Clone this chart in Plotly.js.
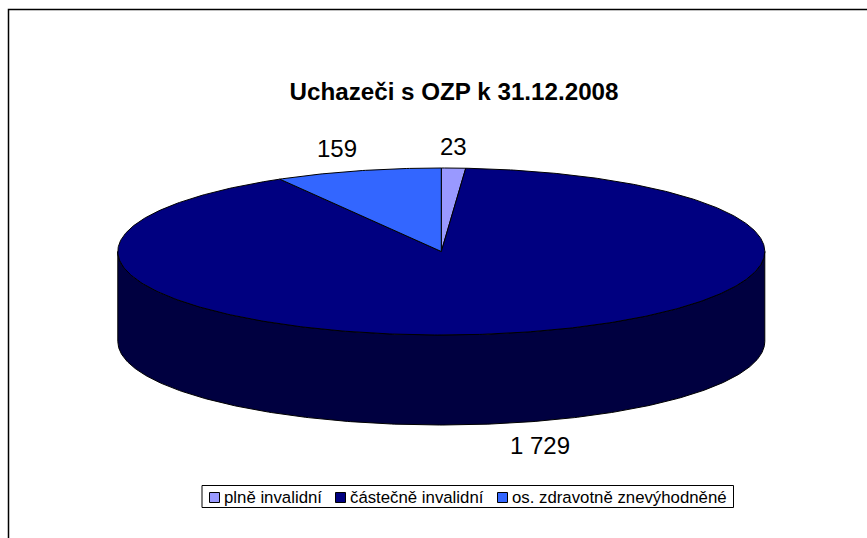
<!DOCTYPE html>
<html><head><meta charset="utf-8">
<script src="https://cdn.plot.ly/plotly-3.0.1.min.js"></script>
<style>html,body{margin:0;padding:0;background:#fff;overflow:hidden}</style>
</head><body><div id="chart" style="width:867px;height:538px"></div>
<script>
const chartTitle = "Uchazeči s OZP k 31.12.2008";
const categories = ["plně invalidní", "částečně invalidní", "os. zdravotně znevýhodněné"];
const values = [23, 1729, 159];
const valueLabels = ["23", "1 729", "159"];
const topColors = ["#9999FF", "#000080", "#3366FF"];
const sideColors = ["#4C4C80", "#000040", "#1A3380"];

const W = 867, H = 538, CX = 441.3, CY = 251.5, RX = 323.5, RY = 83.5, DEPTH = 90;
const xPaper = p => p / W, yPaper = p => 1 - p / H;
const total = values.reduce((a, b) => a + b, 0);
const FONT = "Liberation Sans, Arial, sans-serif";

function arc(a0, a1, drop) {
  const xs = [], ys = [], n = Math.max(2, Math.ceil((a1 - a0) / 0.01));
  for (let i = 0; i <= n; i++) {
    const a = a0 + (a1 - a0) * i / n;
    xs.push(Math.sin(a)); ys.push(Math.cos(a) - drop);
  }
  return [xs, ys];
}
const depth = DEPTH / RY;
const traces = [];
let cum = 0;
const slices = values.map((v, i) => {
  const a0 = cum / total * 2 * Math.PI; cum += v;
  return {i, a0, a1: cum / total * 2 * Math.PI};
});
// front wall (angles pi/2 .. 3pi/2 face the viewer)
slices.forEach(s => {
  const a0 = Math.max(s.a0, Math.PI / 2), a1 = Math.min(s.a1, 3 * Math.PI / 2);
  if (a1 <= a0) return;
  const [tx, ty] = arc(a0, a1, 0), [bx, by] = arc(a0, a1, depth);
  traces.push({type: "scatter", mode: "lines", x: tx.concat(bx.reverse(), [tx[0]]), y: ty.concat(by.reverse(), [ty[0]]),
    fill: "toself", fillcolor: sideColors[s.i], line: {color: "#000", width: 1}, hoverinfo: "skip", showlegend: false});
});
// top face
slices.forEach(s => {
  const [ax, ay] = arc(s.a0, s.a1, 0);
  traces.push({type: "scatter", mode: "lines", name: categories[s.i],
    x: [0].concat(ax, [0]), y: [0].concat(ay, [0]),
    fill: "toself", fillcolor: topColors[s.i], line: {color: "#000", width: 1}, hoverinfo: "name", showlegend: false});
});

const shapes = [
  {type: "path", xref: "paper", yref: "paper",
   path: `M${xPaper(8.5)},${yPaper(560)} L${xPaper(8.5)},${yPaper(9.5)} L${xPaper(900)},${yPaper(9.5)}`,
   line: {color: "#000", width: 1.5}},
  {type: "rect", xref: "paper", yref: "paper", x0: xPaper(202), x1: xPaper(733.5), y0: yPaper(485.5), y1: yPaper(507.5),
   line: {color: "#000", width: 1}, fillcolor: "#fff"}
];
const swatchX = [209.5, 335.5, 497.5], legendTextX = [224, 350, 511.5];
categories.forEach((c, i) => shapes.push({type: "rect", xref: "paper", yref: "paper",
  x0: xPaper(swatchX[i]), x1: xPaper(swatchX[i] + 10), y0: yPaper(492.5), y1: yPaper(502.5),
  line: {color: "#000", width: 1}, fillcolor: topColors[i]}));

const annotations = categories.map((c, i) => ({
  text: c, xref: "paper", yref: "paper", x: xPaper(legendTextX[i]), y: yPaper(497), xanchor: "left", yanchor: "middle",
  showarrow: false, font: {family: FONT, size: 16.8, color: "#000"}, borderpad: 0, borderwidth: 0
}));
const labelPos = [[454, 146], [540, 445], [336.5, 149]];
valueLabels.forEach((t, i) => annotations.push({
  text: t, xref: "paper", yref: "paper", x: xPaper(labelPos[i][0]), y: yPaper(labelPos[i][1]), xanchor: "center", yanchor: "middle",
  showarrow: false, font: {family: FONT, size: 24, color: "#000"}
}));

Plotly.newPlot("chart", traces, {
  width: W, height: H, margin: {l: 0, r: 0, t: 0, b: 0},
  paper_bgcolor: "#fff", plot_bgcolor: "#fff", showlegend: false,
  title: {text: "<b>" + chartTitle + "</b>", font: {family: FONT, size: 24.2, color: "#000"},
    x: xPaper(454), y: yPaper(92), xanchor: "center", yanchor: "middle", xref: "paper", yref: "paper"},
  xaxis: {visible: false, range: [-CX / RX, (W - CX) / RX], fixedrange: true},
  yaxis: {visible: false, range: [(CY - H) / RY, CY / RY], fixedrange: true},
  shapes, annotations
}, {displayModeBar: false, staticPlot: true});
</script></body></html>
